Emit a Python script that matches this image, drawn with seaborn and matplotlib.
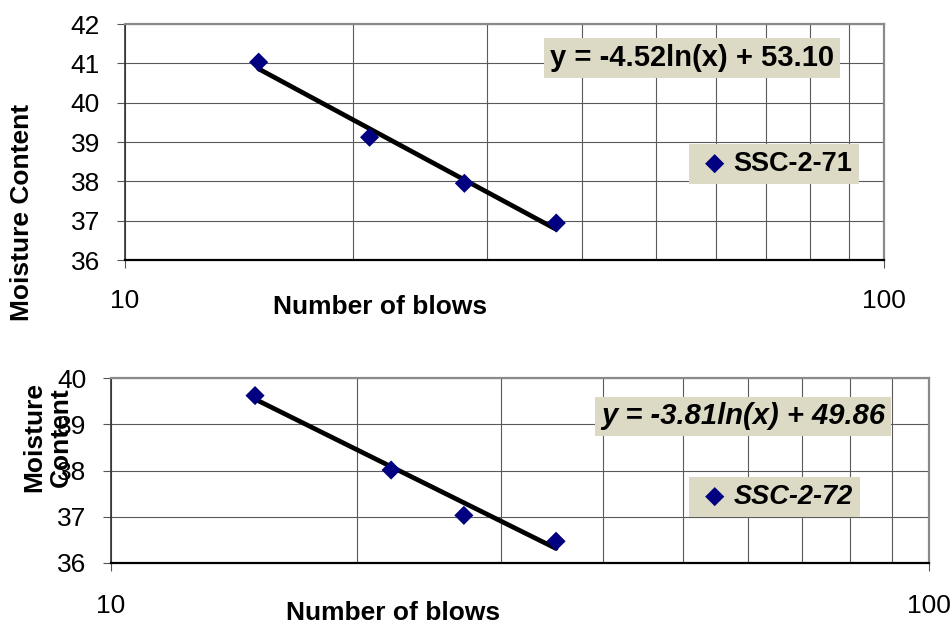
import numpy as np
import pandas as pd
import matplotlib
matplotlib.use("Agg")
import matplotlib.pyplot as plt
import seaborn as sns

# ---- data ----
blows_71 = [15, 21, 28, 37]
moisture_71 = [41.03, 39.12, 37.95, 36.94]
slope_71, intercept_71 = -4.52, 53.10
name_71 = "SSC-2-71"
eq_71 = "y = -4.52ln(x) + 53.10"

blows_72 = [15, 22, 27, 35]
moisture_72 = [39.62, 38.01, 37.03, 36.47]
slope_72, intercept_72 = -3.81, 49.86
name_72 = "SSC-2-72"
eq_72 = "y = -3.81ln(x) + 49.86"

yticks_top = [36, 37, 38, 39, 40, 41, 42]
yticks_bot = [36, 37, 38, 39, 40]
xticks_major = [10, 100]
xticks_minor = [20, 30, 40, 50, 60, 70, 80, 90]

sns.set_style("white")
plt.rcParams['font.family'] = ['Liberation Sans', 'DejaVu Sans']
for k in ['text.color', 'axes.labelcolor', 'xtick.labelcolor', 'ytick.labelcolor']:
    plt.rcParams[k] = 'black'

W, H = 951, 625
fig = plt.figure(figsize=(W / 100, H / 100), dpi=100)

def px_axes(l, t, r, b):
    return fig.add_axes([l / W, 1 - b / H, (r - l) / W, (b - t) / H])

ax1 = px_axes(125, 24, 884, 260)
ax2 = px_axes(111, 378, 929, 563)

BOX = '#DCD9C4'
NAVY = '#000080'

def draw(ax, blows, mc, slope, intercept, name, eq, yticks, italic,
         eq_pos, leg_anchor, ylab, ylab_pos, xlab_pos, xpad, ypad):
    df = pd.DataFrame({'blows': blows, 'mc': mc})
    xs = np.array([min(blows), max(blows)], dtype=float)
    trend = pd.DataFrame({'blows': xs, 'mc': slope * np.log(xs) + intercept})
    ax.set_xscale('log')
    sns.lineplot(data=trend, x='blows', y='mc', ax=ax, color='black',
                 lw=3.4, legend=False, zorder=3)
    sns.scatterplot(data=df, x='blows', y='mc', ax=ax, marker='D', s=95,
                    color=NAVY, edgecolor='none', label=name, zorder=4)
    ax.set_xlim(10, 100)
    ax.set_ylim(yticks[0], yticks[-1])
    ax.set_yticks(yticks)
    ax.set_xticks(xticks_major)
    ax.set_xticklabels([str(v) for v in xticks_major])
    ax.set_xticks(xticks_minor, minor=True)
    ax.xaxis.set_minor_formatter(matplotlib.ticker.NullFormatter())
    ax.grid(True, which='major', axis='y', color='#5a5a5a', lw=0.8)
    ax.grid(True, which='both', axis='x', color='#5a5a5a', lw=0.8)
    ax.tick_params(axis='y', which='major', direction='out', length=6,
                   width=0.8, color='#555555', labelsize=19, pad=ypad, left=True)
    ax.tick_params(axis='x', which='major', direction='out', length=6,
                   width=0.8, color='#555555', labelsize=19, pad=xpad, bottom=True)
    ax.tick_params(axis='x', which='minor', length=0)
    for s in ['top', 'right']:
        ax.spines[s].set_color('#8a8a8a')
        ax.spines[s].set_linewidth(1.6)
    ax.spines['left'].set_color('#333333')
    ax.spines['left'].set_linewidth(1.2)
    ax.spines['bottom'].set_color('#000000')
    ax.spines['bottom'].set_linewidth(1.6)
    style = 'italic' if italic else 'normal'
    ax.text(eq_pos[0], eq_pos[1], eq, transform=ax.transAxes, ha='center',
            va='center', fontsize=21, fontweight='bold', fontstyle=style,
            bbox=dict(boxstyle='square,pad=0.2', fc=BOX, ec='none'), zorder=5)
    leg = ax.legend(loc='upper left', bbox_to_anchor=leg_anchor,
                    frameon=True, facecolor=BOX, edgecolor='none', framealpha=1,
                    fancybox=False, borderaxespad=0, borderpad=0.25,
                    handletextpad=0.0, handlelength=1.4,
                    prop=dict(weight='bold', size=19.5, style=style))
    leg.set_zorder(5)
    ax.set_xlabel('Number of blows', fontsize=19, fontweight='bold')
    ax.xaxis.set_label_coords(*xlab_pos)
    ax.xaxis.label.set_va('center')
    ax.set_ylabel(ylab, fontsize=19, fontweight='bold', linespacing=1.15)
    ax.yaxis.set_label_coords(*ylab_pos)
    ax.yaxis.label.set_va('center')
    ax.yaxis.label.set_ha('center')

draw(ax1, blows_71, moisture_71, slope_71, intercept_71, name_71, eq_71,
     yticks_top, False, (0.747, 0.856), (0.743, 0.4915),
     'Moisture Content', (-0.1357, 0.203), (0.336, -0.199), 15, 12)
draw(ax2, blows_72, moisture_72, slope_72, intercept_72, name_72, eq_72,
     yticks_bot, True, (0.773, 0.792), (0.7066, 0.465),
     'Moisture\nContent', (-0.078, 0.681), (0.345, -0.27), 16, 11.5)

fig.savefig('out.png', dpi=100)
